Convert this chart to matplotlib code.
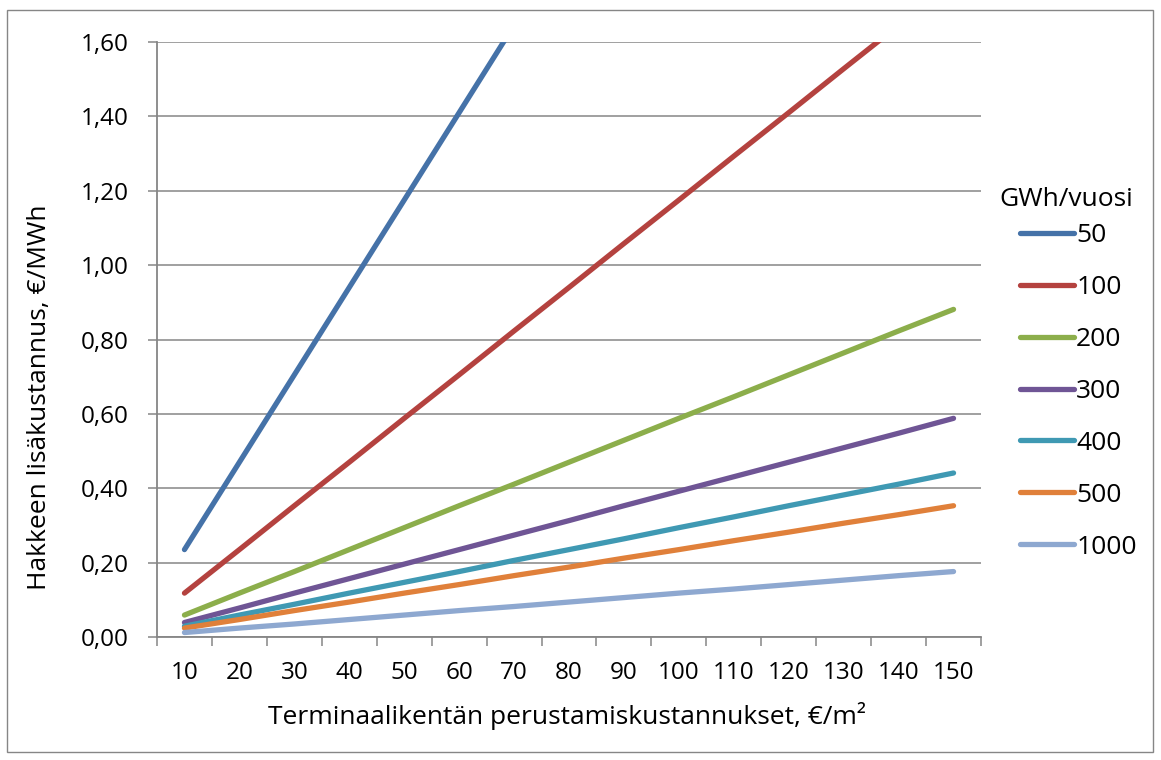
import numpy as np
import matplotlib
matplotlib.use("Agg")
import matplotlib.pyplot as plt
from matplotlib.patches import Rectangle

plt.rcParams['font.family'] = ['Open Sans', 'DejaVu Sans']

# Terminal field construction cost, €/m2
categories = [10, 20, 30, 40, 50, 60, 70, 80, 90, 100, 110, 120, 130, 140, 150]

# Additional chip cost, €/MWh, per annual energy volume (GWh/vuosi)
gwh_50 = [0.235, 0.470, 0.705, 0.940, 1.175, 1.410, 1.645, 1.880, 2.115, 2.350,
          2.585, 2.820, 3.055, 3.290, 3.525]
gwh_100 = [0.118, 0.235, 0.353, 0.470, 0.588, 0.705, 0.823, 0.940, 1.058, 1.175,
           1.293, 1.410, 1.528, 1.645, 1.763]
gwh_200 = [0.059, 0.118, 0.176, 0.235, 0.294, 0.353, 0.411, 0.470, 0.529, 0.588,
           0.646, 0.705, 0.764, 0.823, 0.881]
gwh_300 = [0.039, 0.078, 0.118, 0.157, 0.196, 0.235, 0.274, 0.313, 0.353, 0.392,
           0.431, 0.470, 0.509, 0.548, 0.588]
gwh_400 = [0.029, 0.059, 0.088, 0.118, 0.147, 0.176, 0.206, 0.235, 0.264, 0.294,
           0.323, 0.353, 0.382, 0.411, 0.441]
gwh_500 = [0.024, 0.047, 0.071, 0.094, 0.118, 0.141, 0.165, 0.188, 0.212, 0.235,
           0.259, 0.282, 0.306, 0.329, 0.353]
gwh_1000 = [0.012, 0.024, 0.035, 0.047, 0.059, 0.071, 0.082, 0.094, 0.106, 0.118,
            0.129, 0.141, 0.153, 0.165, 0.176]

series_labels = ["50", "100", "200", "300", "400", "500", "1000"]
series_values = [gwh_50, gwh_100, gwh_200, gwh_300, gwh_400, gwh_500, gwh_1000]
series_colors = ["#4572A8", "#B4423F", "#8CAE4B", "#6F5595", "#3F99B3", "#E0803A", "#8EA8D0"]

y_ticks = [0.0, 0.2, 0.4, 0.6, 0.8, 1.0, 1.2, 1.4, 1.6]

GRID = "#868686"
W, H = 1161, 760

fig = plt.figure(figsize=(W / 100, H / 100), dpi=100)
fig.patch.set_facecolor("white")

# outer chart border
fig.patches.append(Rectangle((7 / W, 1 - 752 / H), (1153 - 7) / W, (752 - 10) / H,
                             transform=fig.transFigure, fill=False,
                             edgecolor=GRID, linewidth=1.0))

ax = fig.add_axes([157 / W, 1 - 637 / H, (981 - 157) / W, (637 - 42) / H])

idx = np.arange(len(categories))
lines = []
for lab, vals, col in zip(series_labels, series_values, series_colors):
    ln, = ax.plot(idx, vals, color=col, lw=3.8, solid_capstyle="round",
                  solid_joinstyle="round", label=lab, zorder=3)
    lines.append(ln)

ax.set_xlim(-0.5, len(categories) - 0.5)
ax.set_ylim(0, 1.6)

# category axis: labels at centres, tick marks between categories
ax.set_xticks(idx)
ax.set_xticklabels([str(c) for c in categories])
ax.set_xticks(np.arange(-0.5, len(categories), 1.0), minor=True)
ax.tick_params(axis="x", which="major", length=0, pad=17, labelsize=17.5)
ax.tick_params(axis="x", which="minor", length=6.5, width=1.1, color=GRID)

ax.set_yticks(y_ticks)
ax.set_yticklabels([f"{v:.2f}".replace(".", ",") for v in y_ticks])
ax.tick_params(axis="y", which="major", length=6.5, width=1.1, color=GRID,
               pad=14, labelsize=17.5)

ax.yaxis.grid(True, color=GRID, lw=1.1, zorder=0)
ax.set_axisbelow(True)
for side in ("top", "right"):
    ax.spines[side].set_visible(False)
for side in ("left", "bottom"):
    ax.spines[side].set_color(GRID)
    ax.spines[side].set_linewidth(1.3)

fig.text(567 / W, 1 - 716 / H, "Terminaalikentän perustamiskustannukset, €/m²",
         ha="center", va="center", fontsize=19)
fig.text(40 / W, 1 - 397 / H, "Hakkeen lisäkustannus, €/MWh",
         ha="center", va="center", rotation=90, fontsize=19)

# legend: title placed on its own, entries below
fig.text(999 / W, 1 - 200 / H, "GWh/vuosi", ha="left", va="center", fontsize=19)
leg = fig.legend(handles=lines, labels=series_labels,
                 loc="upper left", bbox_to_anchor=(1020 / W, 1 - 223 / H),
                 frameon=False, fontsize=19,
                 handlelength=2.05, handletextpad=0.08, labelspacing=1.02,
                 borderaxespad=0, borderpad=0)

fig.savefig("out.png", dpi=100)
